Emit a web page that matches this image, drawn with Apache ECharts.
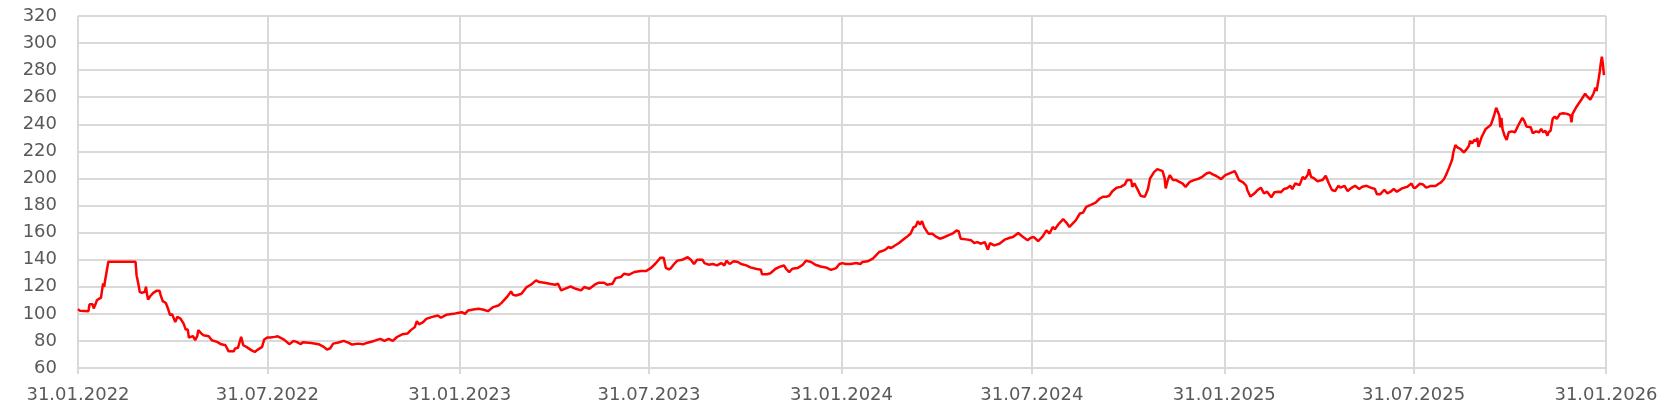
<!DOCTYPE html>
<html>
<head>
<meta charset="utf-8">
<script src="https://cdn.jsdelivr.net/npm/echarts@6/dist/echarts.min.js"></script>
<style>
  html, body { margin: 0; padding: 0; background: #ffffff; }
  #chart { width: 1665px; height: 413px; }
</style>
</head>
<body>
<div id="chart"></div>
<script>
// Start date of the series; day offsets are counted from it
const startDate = '2022-01-31';

// Days since 31.01.2022
const dayOffsets = [
  0, 2, 10, 11, 14, 15, 17, 18, 22, 23, 24, 25, 26, 29, 55, 56, 58, 59, 61, 64,
  65, 66, 67, 69, 72, 75, 78, 79, 81, 84, 86, 88, 90, 93, 95, 98, 101, 103, 105, 106,
  110, 112, 114, 115, 118, 120, 125, 128, 133, 137, 141, 144, 149, 150, 153, 155, 156, 158, 161, 166,
  169, 172, 176, 178, 181, 184, 188, 191, 197, 202, 206, 209, 213, 215, 223, 230, 235, 238, 241, 244,
  249, 254, 259, 262, 268, 273, 276, 283, 289, 293, 297, 301, 305, 310, 315, 318, 322, 324, 326, 330,
  333, 338, 344, 347, 352, 359, 363, 367, 370, 373, 378, 383, 387, 392, 397, 402, 405, 410, 414, 416,
  419, 424, 429, 433, 438, 441, 446, 451, 456, 459, 462, 467, 471, 476, 481, 484, 489, 494, 498, 503,
  506, 511, 514, 519, 522, 527, 532, 538, 543, 548, 552, 557, 560, 562, 565, 567, 570, 573, 578, 583,
  586, 589, 592, 597, 599, 603, 607, 611, 615, 618, 620, 623, 627, 631, 634, 639, 643, 648, 653, 654,
  659, 662, 667, 672, 675, 677, 680, 683, 688, 693, 696, 701, 705, 710, 715, 720, 725, 728, 731, 734,
  739, 744, 748, 750, 755, 760, 763, 766, 769, 772, 775, 777, 780, 785, 790, 793, 796, 799, 801, 803,
  805, 807, 809, 813, 817, 820, 824, 827, 832, 836, 840, 842, 844, 849, 854, 857, 860, 863, 867, 870,
  872, 876, 881, 886, 891, 894, 899, 903, 908, 911, 914, 918, 922, 926, 929, 932, 934, 938, 942, 945,
  948, 951, 954, 958, 961, 964, 969, 973, 977, 980, 983, 986, 989, 993, 997, 1001, 1003, 1007, 1008, 1010,
  1013, 1016, 1020, 1023, 1025, 1029, 1032, 1037, 1039, 1040, 1042, 1044, 1047, 1050, 1053, 1056, 1059, 1063, 1067, 1072,
  1075, 1079, 1082, 1085, 1088, 1093, 1097, 1101, 1106, 1108, 1110, 1114, 1117, 1118, 1121, 1125, 1128, 1131, 1134, 1137,
  1141, 1144, 1148, 1150, 1153, 1156, 1159, 1161, 1164, 1168, 1171, 1173, 1176, 1177, 1179, 1182, 1185, 1190, 1193, 1196,
  1199, 1202, 1205, 1207, 1211, 1214, 1217, 1221, 1225, 1228, 1232, 1236, 1240, 1242, 1245, 1249, 1252, 1255, 1258, 1261,
  1266, 1271, 1275, 1277, 1279, 1283, 1286, 1289, 1293, 1298, 1301, 1303, 1306, 1308, 1311, 1312, 1314, 1315, 1317, 1319,
  1322, 1325, 1327, 1330, 1331, 1333, 1335, 1337, 1338, 1339, 1342, 1346, 1349, 1351, 1354, 1356, 1357, 1359, 1360, 1361,
  1362, 1364, 1366, 1368, 1371, 1374, 1377, 1381, 1383, 1385, 1389, 1391, 1394, 1397, 1399, 1401, 1403, 1405, 1406, 1408,
  1410, 1412, 1414, 1417, 1420, 1424, 1427, 1428, 1429, 1433, 1438, 1441, 1443, 1446, 1449, 1451, 1452, 1454, 1455, 1456,
  1457, 1458, 1459
];

// Index values
const values = [
  103.5, 102.2, 102, 107, 107, 104, 107.6, 110, 112, 117.5, 122.5, 120, 125, 138.5, 138.5, 128.6, 121, 116.3, 115.5, 116.3,
  120, 114.5, 110.6, 113, 115.5, 117, 117, 113.8, 109.4, 108, 104, 99, 99.8, 94, 97.8, 96.5, 92.8, 88.4, 88.4, 82.5,
  83.5, 80.5, 83.5, 88, 85.4, 84.2, 83.5, 80.5, 79.3, 77.5, 76.8, 72.3, 72.3, 74.3, 75, 80.5, 83, 76.8, 75.6, 73,
  71.9, 73.6, 75.6, 81, 82.5, 82.5, 83, 83.4, 81, 77.6, 80, 79.3, 77.6, 79, 78.5, 77.6, 75.6, 73.7, 74.4, 78,
  78.8, 80, 78.5, 77.3, 78, 77.6, 78.5, 80, 81.5, 80, 81.5, 80, 82.9, 84.9, 85.4, 87.8, 90.2, 94.6, 92.2, 93.9,
  96.3, 97.6, 98.8, 97.1, 99.3, 100, 100.7, 101.2, 100, 102.5, 103.2, 103.7, 103.2, 102, 105, 106.2, 108.1, 112.3, 116.5, 114,
  113.6, 114.8, 119.8, 121.5, 124.7, 123.5, 123, 122.2, 121.5, 122.2, 117.3, 119, 120.2, 118.5, 117.3, 119.8, 118.5, 121.5, 123, 123,
  121.5, 122.2, 126.4, 127.2, 129.6, 128.9, 130.9, 131.6, 131.6, 134, 137, 141.5, 141.5, 134, 132.8, 133.8, 136.8, 139.3, 140, 141.8,
  140, 136.8, 140, 140, 137.5, 136.3, 136.8, 135.8, 137.5, 135.8, 139.3, 136.8, 138.8, 138.3, 136.8, 135.8, 134.3, 133.3, 132.5, 129.3,
  129.3, 130, 133.3, 135, 135.8, 133.3, 130.8, 133.3, 133.8, 136.3, 139.3, 138.3, 136.3, 135, 134.3, 132.5, 133.8, 136.8, 137.5, 136.8,
  136.8, 137.5, 136.8, 138.3, 138.8, 140.8, 143.2, 145.7, 146.4, 147.4, 149.4, 148.6, 149.9, 152.3, 155.5, 157.2, 159.2, 164.1, 164.6, 168.5,
  166, 168.5, 164.1, 159.2, 159.2, 157.2, 155.5, 156.2, 157.9, 159.2, 161.6, 161.1, 155.5, 155, 154.3, 152.3, 153, 151.8, 153, 147.4,
  152.3, 150.6, 151.8, 154.8, 156.2, 156.7, 159.7, 157.2, 154.3, 156.2, 156.7, 153.7, 156.8, 161.7, 159.3, 164.2, 162.5, 166.7, 169.9, 167.4,
  164.2, 166.7, 169.1, 174.1, 174.8, 179, 180.7, 182.2, 185.2, 186.4, 186.4, 187.2, 190.6, 193.1, 193.8, 195.6, 198.8, 198.8, 193.8, 196.3,
  192.1, 187.2, 186.4, 192.1, 200, 204.9, 206.9, 205.4, 200, 192.6, 198.8, 202.5, 198.8, 198.8, 197.5, 196.3, 193.8, 197.5, 198.8, 200,
  201.2, 203.7, 204.4, 203, 202, 199.5, 202.4, 203.7, 205.4, 202.4, 198.8, 197.1, 194.6, 191.5, 186.6, 189, 191.5, 193.2, 189, 190.2,
  186.1, 189.8, 190.2, 189.8, 192.2, 192.7, 194.6, 192.2, 196.3, 195.1, 201.2, 199.5, 202.9, 206.8, 201.2, 200, 198, 198.8, 202, 196.3,
  191.5, 190.7, 194.6, 193.2, 194.6, 190.7, 192.7, 194.6, 192.2, 193.9, 194.6, 193.2, 192.2, 188.3, 188.3, 191.5, 189, 190.2, 192.2, 190.2,
  192.7, 193.9, 196.3, 193.2, 193.2, 196.1, 195.6, 193.2, 194.4, 194.4, 196.1, 196.9, 199.4, 202.6, 208, 206.8, 214.2, 219.2, 224.7, 222.9,
  221.7, 219.2, 220.9, 224.2, 227.9, 225.9, 228.4, 227.9, 229.9, 223.4, 230.4, 236.6, 238.3, 239.8, 246.5, 252.2, 253.2, 246.5, 237.8, 244.8,
  236.6, 231.6, 228.4, 234.1, 234.8, 234.1, 239.1, 244.8, 242.3, 238.3, 237.8, 233.4, 234.8, 234.1, 236.6, 234.1, 235.3, 231.6, 234.1, 235.3,
  244, 245.8, 244, 247.7, 248.2, 247.7, 246.5, 241.5, 247.7, 253.2, 258.9, 262.6, 260.6, 258.2, 262.6, 267.1, 264.6, 273.8, 278.8, 285,
  289.9, 285, 276.3
];

// X-axis tick dates and their labels
const tickDates = ['2022-01-31', '2022-07-31', '2023-01-31', '2023-07-31', '2024-01-31',
                   '2024-07-31', '2025-01-31', '2025-07-31', '2026-01-31'];
const tickLabels = ['31.01.2022', '31.07.2022', '31.01.2023', '31.07.2023', '31.01.2024',
                    '31.07.2024', '31.01.2025', '31.07.2025', '31.01.2026'];

// Y-axis range
const yMin = 60, yMax = 320, yStep = 20;

function parseUTC(s) {
  const p = s.split('-').map(Number);
  return Date.UTC(p[0], p[1] - 1, p[2]);
}
const DAY = 86400000;
const start = parseUTC(startDate);
const tickDays = tickDates.map(t => Math.round((parseUTC(t) - start) / DAY));
const seriesData = dayOffsets.map((d, i) => [d, values[i]]);

const gridColor = '#d9d9d9';
const textColor = '#595959';
const font = 'DejaVu Sans';

const chart = echarts.init(document.getElementById('chart'), null, { renderer: 'canvas' });
chart.setOption({
  animation: false,
  backgroundColor: '#ffffff',
  grid: { left: 78, right: 59, top: 16, bottom: 45, containLabel: false, outerBoundsMode: 'none' },
  xAxis: {
    type: 'value',
    min: tickDays[0],
    max: tickDays[tickDays.length - 1],
    axisLine: { show: false },
    axisTick: { show: true, length: 6, customValues: tickDays, lineStyle: { color: gridColor, width: 2 } },
    splitLine: { show: true, lineStyle: { color: gridColor, width: 2 } },
    axisLabel: {
      customValues: tickDays,
      showMinLabel: true,
      showMaxLabel: true,
      hideOverlap: false,
      margin: 18,
      color: textColor,
      fontFamily: font,
      fontSize: 18,
      formatter: function (v) {
        const i = tickDays.indexOf(Math.round(v));
        return i >= 0 ? tickLabels[i] : '';
      }
    }
  },
  yAxis: {
    type: 'value',
    min: yMin,
    max: yMax,
    interval: yStep,
    axisLine: { show: false },
    axisTick: { show: false },
    splitLine: { show: true, lineStyle: { color: gridColor, width: 2 } },
    axisLabel: { margin: 21, color: textColor, fontFamily: font, fontSize: 18 }
  },
  series: [{
    type: 'line',
    data: seriesData,
    showSymbol: false,
    symbol: 'none',
    lineStyle: { color: '#ff0000', width: 2.5 },
    z: 5
  }]
});
</script>
</body>
</html>
